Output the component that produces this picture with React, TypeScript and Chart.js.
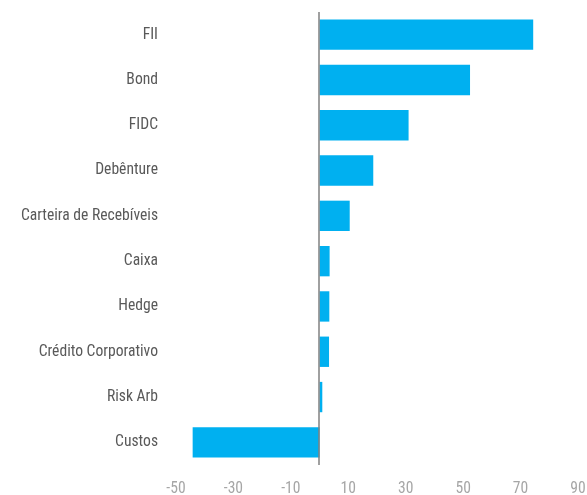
import React, { useEffect, useRef } from "react";
import { Chart, registerables } from "chart.js";

Chart.register(...registerables);

const categories = [
  "FII",
  "Bond",
  "FIDC",
  "Debênture",
  "Carteira de Recebíveis",
  "Caixa",
  "Hedge",
  "Crédito Corporativo",
  "Risk Arb",
  "Custos",
];
const values = [74.4, 52.4, 31, 18.7, 10.5, 3.5, 3.4, 3.3, 0.95, -44.2];
const xMin = -50;
const xMax = 90;
const xStep = 20;

const CANDIDATES = [
  "Liberation Sans Narrow",
  "Roboto Condensed",
  "Open Sans Condensed",
  "DejaVu Sans Condensed",
  "Roboto",
];

function pickFont(): { family: string; size: number } {
  const c = document.createElement("canvas");
  const ctx = c.getContext("2d")!;
  const sample = "Carteira de Recebíveis";
  const w = (f: string) => {
    ctx.font = `100px ${f}`;
    return ctx.measureText(sample).width;
  };
  const mono = w("monospace");
  const serif = w("serif");
  for (const f of CANDIDATES) {
    const a = w(`'${f}', monospace`);
    const b = w(`'${f}', serif`);
    if (Math.abs(a - mono) > 0.5 && Math.abs(b - serif) > 0.5) {
      const size = Math.round((137 / a) * 100 * 10) / 10;
      return { family: `'${f}', sans-serif`, size: Math.min(size, 19) };
    }
  }
  return { family: "sans-serif", size: 14 };
}

const zeroLine = {
  id: "zeroLine",
  afterDatasetsDraw(chart: any) {
    const { ctx, chartArea, scales } = chart;
    const x = Math.round(scales.x.getPixelForValue(0)) - 1;
    ctx.save();
    ctx.strokeStyle = "#808080";
    ctx.lineWidth = 1.5;
    ctx.beginPath();
    ctx.moveTo(x, chartArea.top);
    ctx.lineTo(x, chartArea.bottom);
    ctx.stroke();
    ctx.restore();
  },
};

export default function App() {
  const ref = useRef<HTMLCanvasElement | null>(null);
  useEffect(() => {
    if (!ref.current) return;
    const font = pickFont();
    const chart = new Chart(ref.current, {
      type: "bar",
      data: {
        labels: categories,
        datasets: [
          {
            data: values,
            backgroundColor: "#00B0F0",
            borderWidth: 0,
            categoryPercentage: 1,
            barPercentage: 0.67,
          },
        ],
      },
      options: {
        indexAxis: "y",
        animation: false,
        responsive: false,
        layout: { padding: { top: 12, right: 9, left: 0, bottom: 0 } },
        plugins: {
          legend: { display: false },
          tooltip: { enabled: false },
        },
        scales: {
          x: {
            min: xMin,
            max: xMax,
            border: { display: false },
            grid: { display: false, drawTicks: false },
            ticks: {
              stepSize: xStep,
              color: "#a6a6a6",
              padding: 15,
              maxRotation: 0,
              font: { family: font.family, size: font.size },
            },
            afterFit(scale: any) {
              scale.height = 30;
              scale.paddingLeft = 0;
              scale.paddingRight = 0;
            },
          },
          y: {
            border: { display: false },
            grid: { display: false, drawTicks: false },
            ticks: {
              color: "#595959",
              padding: 18,
              font: { family: font.family, size: font.size },
            },
            afterFit(scale: any) {
              scale.width = 176;
              scale.paddingTop = 0;
              scale.paddingBottom = 0;
            },
          },
        },
      },
      plugins: [zeroLine],
    });
    return () => chart.destroy();
  }, []);
  return (
    <div style={{ position: "absolute", left: 0, top: 0, width: 587, height: 495 }}>
      <canvas ref={ref} width={587} height={495} style={{ display: "block" }} />
    </div>
  );
}
